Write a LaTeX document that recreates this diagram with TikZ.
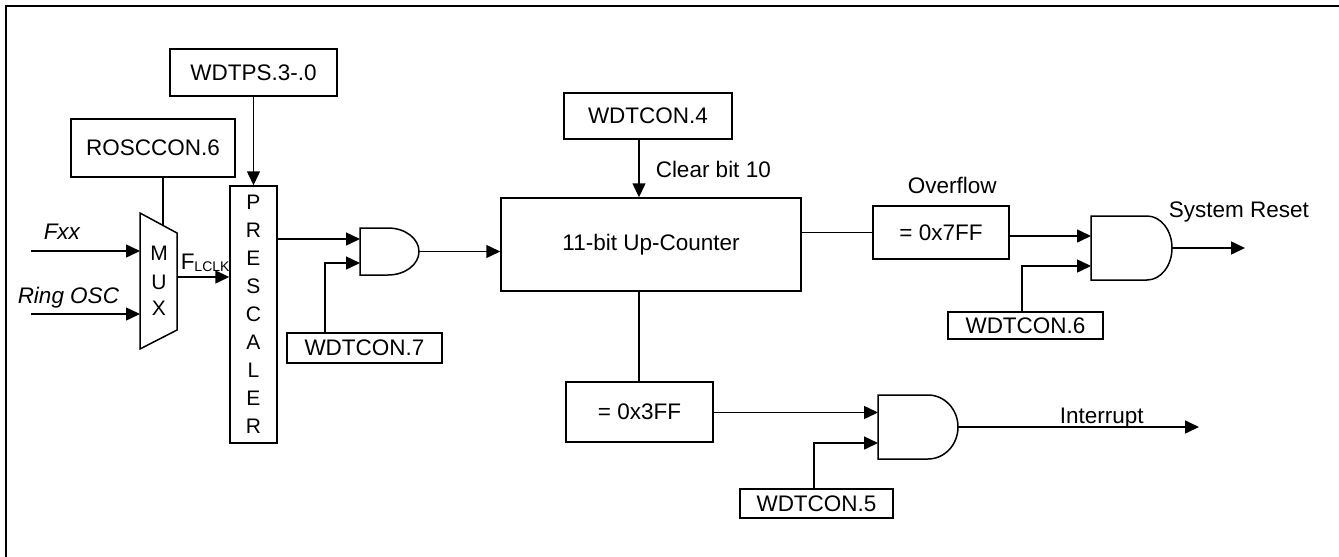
\documentclass[tikz,border=0pt]{standalone}
\usepackage{fontspec}
\setmainfont{Liberation Sans}
\usetikzlibrary{arrows.meta}
\begin{document}
\begin{tikzpicture}[x=1pt,y=-1pt, line width=1.5pt,
  txt/.style={font=\fontsize{22.5}{27}\selectfont},
  box/.style={draw, rectangle, inner sep=0pt, txt},
  lbl/.style={inner sep=0pt, anchor=base west, txt},
  letter/.style={inner sep=0pt, font=\fontsize{21}{25}\selectfont},
  arr/.style={-{Triangle[length=14pt,width=13pt]}},
]
\useasboundingbox (0,0) rectangle (1339,557);
\draw[line width=2.5pt] (6,557) -- (6,6) -- (1339,6);

% ---- boxes ----
\node[box, minimum width=167pt, minimum height=47pt] (wdtps) at (253.5,72.5) {WDTPS.3-.0};
\node[box, minimum width=164pt, minimum height=58pt] (rosc) at (153,148) {ROSCCON.6};
\node[box, minimum width=47pt, minimum height=257pt] (presc) at (253.5,314.5) {};
\foreach \l [count=\i from 0] in {P,R,E,S,C,A,L,E,R}
  \node[letter] (p\i) at (253.5,{202+28*\i}) {\l};
\node[box, minimum width=155pt, minimum height=30pt] (wdt7) at (364.5,348) {WDTCON.7};
\node[box, minimum width=168pt, minimum height=46pt] (wdt4) at (648,116) {WDTCON.4};
\node[box, minimum width=300pt, minimum height=93pt] (counter) at (651,244.5) {11-bit Up-Counter};
\node[box, minimum width=136pt, minimum height=53pt] (ovf) at (941,232.5) {= 0x7FF};
\node[box, minimum width=155pt, minimum height=27pt] (wdt6) at (1025.5,325.5) {WDTCON.6};
\node[box, minimum width=147pt, minimum height=60pt] (cmp) at (639.5,412) {= 0x3FF};
\node[box, minimum width=153pt, minimum height=29pt] (wdt5) at (816.5,503.5) {WDTCON.5};

% ---- MUX ----
\draw (140,213) -- (177,233) -- (177,330) -- (140,349) -- cycle;
\node[letter] (mm) at (159,253) {M};
\node[letter] (mu) at (159,282) {U};
\node[letter] (mx) at (159,308) {X};
\coordinate (muxsel) at (163,225.4);
\coordinate (muxin1) at (140,251);
\coordinate (muxin2) at (140,314);
\coordinate (muxout) at (177,277);
\coordinate (fxx) at (31,251);
\coordinate (ring) at (31,314);

% ---- AND gates ----
\draw (360,228) -- (388,228) arc[start angle=90,end angle=-90,x radius=31pt,y radius=23.5pt] -- (360,275) -- cycle;
\coordinate (and1a) at (360,239);
\coordinate (and1b) at (360,263);
\coordinate (and1o) at (419,251.5);

\draw (1091,216) -- (1147,216) arc[start angle=90,end angle=-90,x radius=25pt,y radius=32pt] -- (1091,280) -- cycle;
\coordinate (and2a) at (1091,236);
\coordinate (and2b) at (1091,266);
\coordinate (and2o) at (1172,248);

\draw (878,395) -- (928,395) arc[start angle=90,end angle=-90,x radius=30pt,y radius=32pt] -- (878,459) -- cycle;
\coordinate (and3a) at (878,412.5);
\coordinate (and3b) at (878,443);
\coordinate (and3o) at (958,427);

\coordinate (w7x) at (325,0);
\coordinate (cx) at (639,0);
\coordinate (w6x) at (1022,0);
\coordinate (w5x) at (814,0);
\coordinate (sysr) at (1245,248);
\coordinate (intr) at (1199,427);

% ---- connectors ----
\draw[arr] (fxx) -- (muxin1);
\draw[arr] (ring) -- (muxin2);
\draw (muxsel) -- (muxsel |- rosc.south);
\draw[arr] (muxout) -- (muxout -| presc.west);
\draw[arr] (wdtps.south) -- (presc.north);
\draw[arr] (presc.east |- and1a) -- (and1a);
\draw[arr] (wdt7.north -| w7x) |- (and1b);
\draw[arr] (and1o) -- (and1o -| counter.west);
\draw[arr] (wdt4.south -| cx) -- (counter.north -| cx);
\draw (counter.east |- ovf.west) -- (ovf.west);
\draw[arr] (ovf.east |- and2a) -- (and2a);
\draw[arr] (wdt6.north -| w6x) |- (and2b);
\draw[arr] (and2o) -- (sysr);
\draw (counter.south -| cx) -- (cmp.north -| cx);
\draw[arr] (cmp.east |- and3a) -- (and3a);
\draw[arr] (wdt5.north -| w5x) |- (and3b);
\draw[arr] (and3o) -- (intr);

% ---- labels ----
\node[lbl, font=\fontsize{22.5}{27}\selectfont\itshape] (lfxx) at (43,239) {Fxx};
\node[lbl, font=\fontsize{22.5}{27}\selectfont\itshape] (lring) at (17,303) {Ring OSC};
\node[lbl] (lflclk) at (180,269) {F\raisebox{-2pt}{\fontsize{14}{14}\selectfont LCLK}};
\node[lbl] (lclr) at (655,177) {Clear bit 10};
\node[lbl] (lovf) at (907,193) {Overflow};
\node[lbl] (lsys) at (1168,217) {System Reset};
\node[lbl] (lint) at (1059,423) {Interrupt};
\end{tikzpicture}
\end{document}
